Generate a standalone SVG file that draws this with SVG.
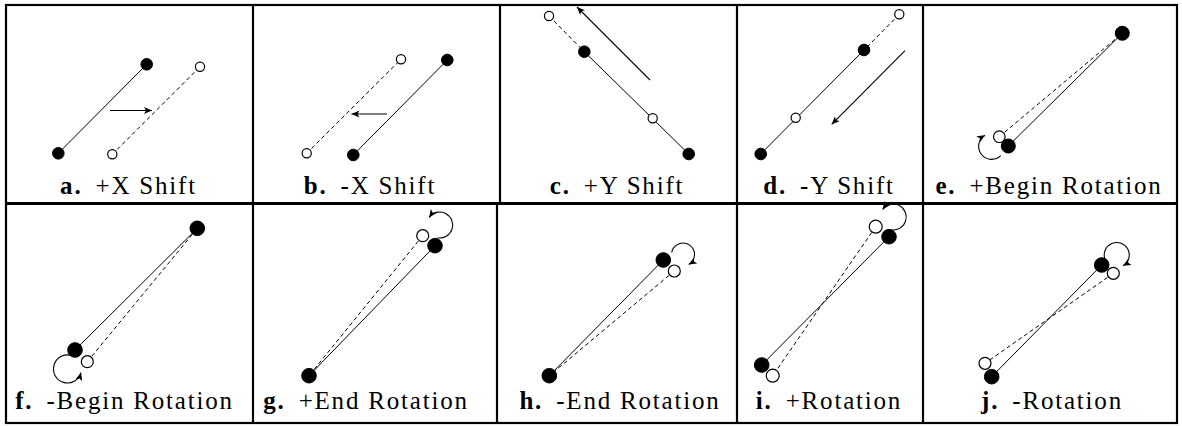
<svg xmlns="http://www.w3.org/2000/svg" width="1182" height="426" viewBox="0 0 1182 426">
<defs>
<style>
.grid{fill:none;stroke:#000;stroke-width:2.2}
.mid{stroke:#000;stroke-width:3}
.sl{stroke:#000;stroke-width:1;fill:none}
.dl{stroke:#000;stroke-width:1;fill:none;stroke-dasharray:4 3}
.ar{stroke:#000;stroke-width:1.1;fill:none;marker-end:url(#ah)}
.f{fill:#000;stroke:#000;stroke-width:1}
.o{fill:#fff;stroke:#000;stroke-width:1.2}
.lb{font-family:"Liberation Serif","Times New Roman",serif;font-size:25px;letter-spacing:1.8px;fill:#000;text-anchor:middle}
.b{font-weight:bold}
</style>
<marker id="ah" markerUnits="userSpaceOnUse" markerWidth="9" markerHeight="7" refX="8" refY="3.5" orient="auto">
<path d="M0,0 L8,3.5 L0,7 L2,3.5 z" fill="#000"/>
</marker>
</defs>
<rect width="1182" height="426" fill="#fff"/>
<g id="grid">
<rect class="grid" x="6" y="5" width="1171" height="418"/>
<line class="mid" x1="6" y1="203.5" x2="1177" y2="203.5"/>
<line class="grid" x1="253" y1="5" x2="253" y2="423"/>
<line class="grid" x1="500" y1="5" x2="500" y2="203.5"/>
<line class="grid" x1="497" y1="203.5" x2="497" y2="423"/>
<line class="grid" x1="737" y1="5" x2="737" y2="423"/>
<line class="grid" x1="923" y1="5" x2="923" y2="423"/>
</g>
<g id="connectors">
<!-- a -->
<line class="sl" x1="58.3" y1="153.3" x2="146.7" y2="64.3"/>
<line class="dl" x1="112.3" y1="154.3" x2="200" y2="66.7"/>
<line class="ar" x1="110" y1="110.5" x2="152" y2="110.5"/>
<!-- b -->
<line class="dl" x1="306.7" y1="153.3" x2="401" y2="59.3"/>
<line class="sl" x1="353.3" y1="155" x2="447.3" y2="60"/>
<line class="ar" x1="387" y1="114" x2="351.5" y2="114"/>
<!-- c -->
<line class="dl" x1="549" y1="16" x2="584.3" y2="51.7"/>
<line class="sl" x1="584.3" y1="51.7" x2="688.7" y2="154"/>
<line class="ar" x1="650" y1="80" x2="577" y2="7"/>
<!-- d -->
<line class="dl" x1="899.3" y1="14.3" x2="864" y2="50"/>
<line class="sl" x1="864" y1="50" x2="760.7" y2="154"/>
<line class="ar" x1="905" y1="50.7" x2="831.7" y2="124.3"/>
<!-- e -->
<line class="sl" x1="1122.3" y1="33.3" x2="1008.3" y2="146"/>
<line class="dl" x1="999.3" y1="136.7" x2="1122.3" y2="33.3"/>
<path class="ar" d="M1000.7,155.7 A13,13 0 1 1 985,135.2"/>
<!-- f -->
<line class="sl" x1="197.3" y1="228.3" x2="75" y2="350"/>
<line class="dl" x1="87.3" y1="361.7" x2="197.3" y2="228.3"/>
<path class="ar" d="M72.3,355.8 A14,14 0 1 0 81,372.6"/>
<!-- g -->
<line class="sl" x1="435" y1="245.7" x2="309" y2="375.7"/>
<line class="dl" x1="422.7" y1="235.7" x2="309" y2="375.7"/>
<path class="ar" d="M437.4,237.8 A13,13 0 1 0 429.1,217.5"/>
<!-- h -->
<line class="sl" x1="663.3" y1="260" x2="549.3" y2="375.7"/>
<line class="dl" x1="674.3" y1="271" x2="549.3" y2="375.7"/>
<path class="ar" d="M671.7,252.5 A11.5,11.5 0 1 1 688.75,264.5"/>
<!-- i -->
<line class="sl" x1="889" y1="236.7" x2="761.7" y2="365"/>
<line class="dl" x1="875.7" y1="226.7" x2="772.7" y2="375.7"/>
<path class="ar" d="M891,229.8 A13,13 0 1 0 882.6,209.5"/>
<!-- j -->
<line class="sl" x1="1101.7" y1="265" x2="991.7" y2="376.7"/>
<line class="dl" x1="1113.3" y1="273.3" x2="985" y2="363.3"/>
<path class="ar" d="M1105,259.3 A12.5,12.5 0 1 1 1123,265.8"/>
</g>
<g id="panel-a">
<circle class="f" cx="58.3" cy="153.3" r="5.8"/>
<circle class="f" cx="146.7" cy="64.3" r="5.8"/>
<circle class="o" cx="112.3" cy="154.3" r="4.6"/>
<circle class="o" cx="200" cy="66.7" r="4.6"/>
<text class="lb" x="128.5" y="194"><tspan class="b">a.</tspan><tspan dx="5"> +X Shift</tspan></text>
</g>
<g id="panel-b">
<circle class="o" cx="306.7" cy="153.3" r="4.6"/>
<circle class="o" cx="401" cy="59.3" r="4.6"/>
<circle class="f" cx="353.3" cy="155" r="5.8"/>
<circle class="f" cx="447.3" cy="60" r="5.8"/>
<text class="lb" x="370" y="194"><tspan class="b">b.</tspan><tspan dx="5"> -X Shift</tspan></text>
</g>
<g id="panel-c">
<circle class="o" cx="549" cy="16" r="4.6"/>
<circle class="f" cx="584.3" cy="51.7" r="5.8"/>
<circle class="o" cx="652.7" cy="118.3" r="4.6"/>
<circle class="f" cx="688.7" cy="154" r="5.8"/>
<text class="lb" x="617" y="194"><tspan class="b">c.</tspan><tspan dx="5"> +Y Shift</tspan></text>
</g>
<g id="panel-d">
<circle class="o" cx="899.3" cy="14.3" r="4.6"/>
<circle class="f" cx="864" cy="50" r="5.8"/>
<circle class="o" cx="795.7" cy="117.7" r="4.6"/>
<circle class="f" cx="760.7" cy="154" r="5.8"/>
<text class="lb" x="829" y="194"><tspan class="b">d.</tspan><tspan dx="5"> -Y Shift</tspan></text>
</g>
<g id="panel-e">
<circle class="f" cx="1122.3" cy="33.3" r="7"/>
<circle class="o" cx="999.3" cy="136.7" r="5.8"/>
<circle class="f" cx="1008.3" cy="146" r="7"/>
<text class="lb" x="1049" y="194"><tspan class="b">e.</tspan><tspan dx="5"> +Begin Rotation</tspan></text>
</g>
<g id="panel-f">
<circle class="f" cx="197.3" cy="228.3" r="7.3"/>
<circle class="f" cx="75" cy="350" r="7.3"/>
<circle class="o" cx="87.3" cy="361.7" r="6"/>
<text class="lb" x="124.5" y="409"><tspan class="b">f.</tspan><tspan dx="5"> -Begin Rotation</tspan></text>
</g>
<g id="panel-g">
<circle class="o" cx="422.7" cy="235.7" r="6"/>
<circle class="f" cx="435" cy="245.7" r="7.3"/>
<circle class="f" cx="309" cy="375.7" r="7.3"/>
<text class="lb" x="366" y="409"><tspan class="b">g.</tspan><tspan dx="5"> +End Rotation</tspan></text>
</g>
<g id="panel-h">
<circle class="f" cx="663.3" cy="260" r="7.3"/>
<circle class="o" cx="674.3" cy="271" r="6"/>
<circle class="f" cx="549.3" cy="375.7" r="7.3"/>
<text class="lb" x="620" y="409"><tspan class="b">h.</tspan><tspan dx="5"> -End Rotation</tspan></text>
</g>
<g id="panel-i">
<circle class="o" cx="875.7" cy="226.7" r="6.5"/>
<circle class="f" cx="889" cy="236.7" r="7.3"/>
<circle class="f" cx="761.7" cy="365" r="7.3"/>
<circle class="o" cx="772.7" cy="375.7" r="6.5"/>
<text class="lb" x="829" y="409"><tspan class="b">i.</tspan><tspan dx="5"> +Rotation</tspan></text>
</g>
<g id="panel-j">
<circle class="f" cx="1101.7" cy="265" r="7.3"/>
<circle class="o" cx="1113.3" cy="273.3" r="6"/>
<circle class="o" cx="985" cy="363.3" r="6"/>
<circle class="f" cx="991.7" cy="376.7" r="7.3"/>
<text class="lb" x="1052" y="409"><tspan class="b">j.</tspan><tspan dx="5"> -Rotation</tspan></text>
</g>
</svg>
